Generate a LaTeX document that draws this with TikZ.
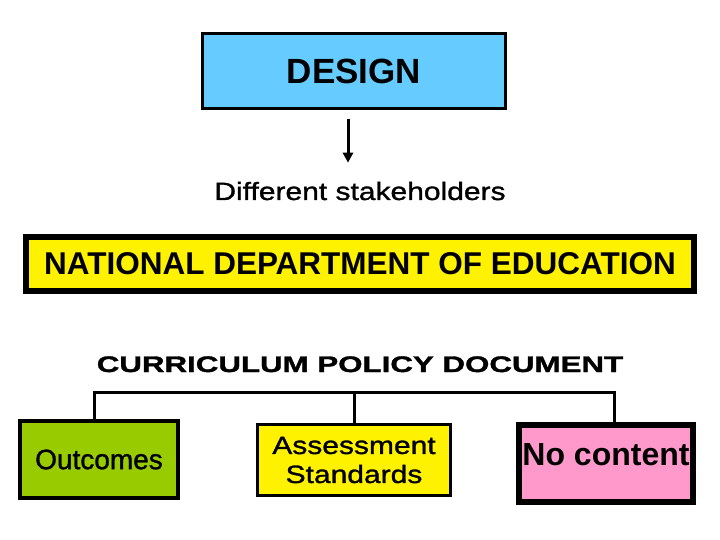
\documentclass[tikz,border=0pt]{standalone}
\usepackage{fontspec}
\setmainfont{Liberation Sans}
\newfontfamily\plainsans[FakeBold=1.2]{Liberation Sans}
\newfontfamily\widesans[FakeStretch=1.2,FakeBold=1.2]{Liberation Sans}
\newfontfamily\widersans[FakeStretch=1.39,FakeBold=1.5]{Liberation Sans}
\usepackage{tikz}
\usetikzlibrary{arrows.meta}
\definecolor{designblue}{RGB}{102,204,255}
\definecolor{outgreen}{RGB}{153,204,0}
\definecolor{nocpink}{RGB}{255,153,204}
\tikzset{%
  every box/.style={
    rectangle,
    draw=black,
    inner sep=0pt,
    align=center
  },
  tree line/.style={
    draw=black,
    line width=3pt
  },
}

\begin{document}
\begin{tikzpicture}[> = {Triangle[length=10pt,width=10pt]}, x=1pt, y=-1pt]
\useasboundingbox (0,0) rectangle (720,540);
\node[every box, fill=designblue, line width=3pt, minimum width=303pt, minimum height=75pt,
      font=\fontsize{35}{40}\selectfont\bfseries] (box_design) at (354,71) {DESIGN};
\node[inner sep=0pt, font=\fontsize{25}{30}\selectfont\widesans, anchor=base] (lbl_stake) at (360,200) {Different stakeholders};
\draw[line width=3pt, ->] ([xshift=-6pt,yshift=-9pt]box_design.south) -- ([xshift=-12pt,yshift=19pt]lbl_stake.north);
\node[every box, fill=yellow, line width=6pt, minimum width=668pt, minimum height=54pt,
      font=\fontsize{31.5}{35}\selectfont\bfseries] (box_nde) at (360,264) {NATIONAL DEPARTMENT OF EDUCATION};
\node[inner sep=0pt, font=\fontsize{22.5}{26}\selectfont\widersans\bfseries, anchor=base] (lbl_policy) at (360,372) {CURRICULUM POLICY DOCUMENT};
\node[every box, fill=outgreen, line width=4pt, minimum width=158pt, minimum height=77pt,
      font=\fontsize{28}{32}\selectfont\plainsans] (box_out) at (99,459.5) {Outcomes};
\node[every box, fill=yellow, line width=3pt, minimum width=193pt, minimum height=71pt,
      font=\fontsize{25}{29}\selectfont\widesans] (box_ass) at (354,460) {Assessment\\Standards};
\node[every box, fill=nocpink, line width=6pt, minimum width=174pt, minimum height=77pt, text depth=18pt,
      font=\fontsize{32}{36}\selectfont\bfseries] (box_noc) at (606,463.5) {No content};
\coordinate (bar) at (354,392);
\draw[tree line] ([xshift=-5pt]box_out.north) |- (bar) -| ([xshift=8pt]box_noc.north);
\draw[tree line] (box_ass.north) -- (bar);
\end{tikzpicture}
\end{document}
